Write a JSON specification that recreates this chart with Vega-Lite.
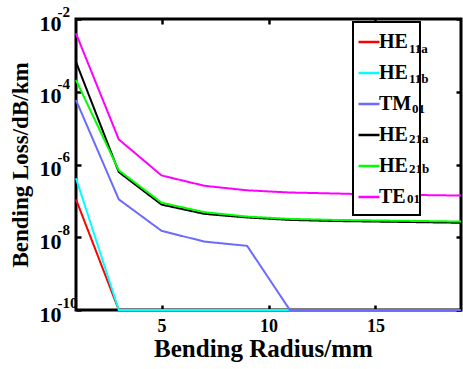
{
  "$schema": "https://vega.github.io/schema/vega-lite/v6.json",
  "width": 385,
  "height": 291,
  "autosize": "none",
  "padding": {"left": 76, "top": 19, "right": 2, "bottom": 59},
  "background": "white",
  "config": {
    "view": {"stroke": "black", "strokeWidth": 3},
    "font": "Liberation Serif"
  },
  "data": {
    "values": [
      {"mode": "HE11a", "r": 1, "loss": 1.1e-7},
      {"mode": "HE11a", "r": 3, "loss": 1e-10},
      {"mode": "HE11a", "r": 5, "loss": 1e-10},
      {"mode": "HE11a", "r": 7, "loss": 1e-10},
      {"mode": "HE11a", "r": 9, "loss": 1e-10},
      {"mode": "HE11a", "r": 11, "loss": 1e-10},
      {"mode": "HE11a", "r": 13, "loss": 1e-10},
      {"mode": "HE11a", "r": 15, "loss": 1e-10},
      {"mode": "HE11a", "r": 17, "loss": 1e-10},
      {"mode": "HE11a", "r": 19, "loss": 1e-10},
      {"mode": "HE11b", "r": 1, "loss": 4.2e-7},
      {"mode": "HE11b", "r": 3, "loss": 1e-10},
      {"mode": "HE11b", "r": 5, "loss": 1e-10},
      {"mode": "HE11b", "r": 7, "loss": 1e-10},
      {"mode": "HE11b", "r": 9, "loss": 1e-10},
      {"mode": "HE11b", "r": 11, "loss": 1e-10},
      {"mode": "HE11b", "r": 13, "loss": 1e-10},
      {"mode": "HE11b", "r": 15, "loss": 1e-10},
      {"mode": "HE11b", "r": 17, "loss": 1e-10},
      {"mode": "HE11b", "r": 19, "loss": 1e-10},
      {"mode": "TM01", "r": 1, "loss": 5.9e-5},
      {"mode": "TM01", "r": 3, "loss": 1.1e-7},
      {"mode": "TM01", "r": 5, "loss": 1.5e-8},
      {"mode": "TM01", "r": 7, "loss": 7.6e-9},
      {"mode": "TM01", "r": 9, "loss": 5.8e-9},
      {"mode": "TM01", "r": 11, "loss": 1e-10},
      {"mode": "TM01", "r": 13, "loss": 1e-10},
      {"mode": "TM01", "r": 15, "loss": 1e-10},
      {"mode": "TM01", "r": 17, "loss": 1e-10},
      {"mode": "TM01", "r": 19, "loss": 1e-10},
      {"mode": "HE21a", "r": 1, "loss": 6.6e-4},
      {"mode": "HE21a", "r": 3, "loss": 6.2e-7},
      {"mode": "HE21a", "r": 5, "loss": 7.9e-8},
      {"mode": "HE21a", "r": 7, "loss": 4.4e-8},
      {"mode": "HE21a", "r": 9, "loss": 3.5e-8},
      {"mode": "HE21a", "r": 11, "loss": 3.0e-8},
      {"mode": "HE21a", "r": 13, "loss": 2.8e-8},
      {"mode": "HE21a", "r": 15, "loss": 2.7e-8},
      {"mode": "HE21a", "r": 17, "loss": 2.6e-8},
      {"mode": "HE21a", "r": 19, "loss": 2.5e-8},
      {"mode": "HE21b", "r": 1, "loss": 2.1e-4},
      {"mode": "HE21b", "r": 3, "loss": 6.9e-7},
      {"mode": "HE21b", "r": 5, "loss": 8.9e-8},
      {"mode": "HE21b", "r": 7, "loss": 4.9e-8},
      {"mode": "HE21b", "r": 9, "loss": 3.7e-8},
      {"mode": "HE21b", "r": 11, "loss": 3.2e-8},
      {"mode": "HE21b", "r": 13, "loss": 3.0e-8},
      {"mode": "HE21b", "r": 15, "loss": 2.9e-8},
      {"mode": "HE21b", "r": 17, "loss": 2.8e-8},
      {"mode": "HE21b", "r": 19, "loss": 2.7e-8},
      {"mode": "TE01", "r": 1, "loss": 4.0e-3},
      {"mode": "TE01", "r": 3, "loss": 4.9e-6},
      {"mode": "TE01", "r": 5, "loss": 5.0e-7},
      {"mode": "TE01", "r": 7, "loss": 2.6e-7},
      {"mode": "TE01", "r": 9, "loss": 1.95e-7},
      {"mode": "TE01", "r": 11, "loss": 1.7e-7},
      {"mode": "TE01", "r": 13, "loss": 1.6e-7},
      {"mode": "TE01", "r": 15, "loss": 1.5e-7},
      {"mode": "TE01", "r": 17, "loss": 1.45e-7},
      {"mode": "TE01", "r": 19, "loss": 1.4e-7}
    ]
  },
  "resolve": {"axis": {"x": "independent", "y": "independent"}},
  "layer": [
    {
      "mark": {"type": "line", "strokeWidth": 2, "clip": false},
      "encoding": {
        "x": {
          "field": "r", "type": "quantitative",
          "scale": {"domain": [1, 19], "nice": false, "zero": false},
          "axis": {
            "values": [5, 10, 15], "grid": false, "domain": false,
            "tickSize": -5, "tickWidth": 2.5, "tickColor": "black",
            "labelFont": "Liberation Serif", "labelFontWeight": "bold", "labelFontSize": 18, "labelColor": "black",
            "labelPadding": 12,
            "title": "Bending Radius/mm", "titleFont": "Liberation Serif", "titleFontWeight": "bold",
            "titleFontSize": 25, "titleColor": "black", "titlePadding": 1, "titleX": 187
          }
        },
        "y": {
          "field": "loss", "type": "quantitative",
          "scale": {"type": "log", "domain": [1e-10, 1e-2], "nice": false},
          "axis": {
            "values": [1e-10, 1e-8, 1e-6, 1e-4, 1e-2], "grid": false, "domain": false,
            "tickSize": -5, "tickWidth": 2.5, "tickColor": "black",
            "labelExpr": "'10'",
            "labelFont": "Liberation Serif", "labelFontWeight": "bold", "labelFontSize": 22, "labelColor": "black",
            "labelPadding": 20, "labelOffset": 4, "labelBaseline": "middle",
            "encode": {"labels": {"update": {
              "dx": {"signal": "datum.value < 1e-9 ? -7 : 0"}
            }}},
            "title": "Bending Loss/dB/km", "titleFont": "Liberation Serif", "titleFontWeight": "bold",
            "titleFontSize": 23, "titleColor": "black", "titlePadding": 7
          }
        },
        "color": {
          "field": "mode", "type": "nominal",
          "scale": {
            "domain": ["HE11a", "HE11b", "TM01", "HE21a", "HE21b", "TE01"],
            "range": ["#ff0000", "#00ffff", "#6b6bff", "#000000", "#00ff00", "#ff00ff"]
          },
          "legend": {
            "title": null, "orient": "none", "legendX": 277, "legendY": 3,
            "strokeColor": "black", "fillColor": "white", "padding": 8,
            "symbolType": "stroke", "symbolSize": 441, "symbolStrokeWidth": 2.5, "symbolOffset": -4,
            "labelExpr": "slice(datum.label, 0, 2) + '          '",
            "labelFont": "Liberation Serif", "labelFontWeight": "bold", "labelFontSize": 20, "labelColor": "black",
            "labelOffset": -2, "rowPadding": 9,
            "encode": {"legend": {"update": {"strokeWidth": {"value": 2}}}}
          }
        },
        "strokeDash": {
          "field": "mode", "type": "nominal",
          "sort": ["HE11a", "HE11b", "TM01", "HE21a", "HE21b", "TE01"],
          "scale": {"range": [[1, 0], [1, 0], [1, 0], [1, 0], [1, 0], [1, 0]]},
          "legend": {
            "title": null, "orient": "none", "legendX": 320, "legendY": 23,
            "padding": 0, "symbolSize": 1, "symbolOpacity": 0, "symbolStrokeWidth": 0,
            "labelExpr": "slice(datum.label, 2)",
            "labelFont": "Liberation Serif", "labelFontWeight": "bold", "labelFontSize": 13, "labelColor": "black",
            "labelOffset": 0, "rowPadding": 16,
            "encode": {"labels": {"update": {"dx": {"signal": "datum.value === 'TM01' ? 3 : datum.value === 'TE01' ? -2 : 0"}}}}
          }
        }
      }
    },
    {
      "mark": {"type": "line", "opacity": 0},
      "encoding": {
        "x": {"field": "r", "type": "quantitative", "axis": null},
        "y": {
          "field": "loss", "type": "quantitative",
          "axis": {
            "orient": "left",
            "values": [1e-10, 1e-8, 1e-6, 1e-4, 1e-2], "grid": false, "domain": false, "ticks": false,
            "labelExpr": "'-' + round(-log(datum.value) / LN10)",
            "labelFont": "Liberation Serif", "labelFontWeight": "bold", "labelFontSize": 15, "labelColor": "black",
            "labelAlign": "left", "labelBaseline": "bottom", "labelPadding": 19, "title": null,
            "encode": {"labels": {"update": {
              "dx": {"signal": "datum.value < 1e-9 ? -7 : 0"}
            }}}
          }
        },
        "detail": {"field": "mode", "type": "nominal"}
      }
    },
    {
      "mark": {"type": "line", "opacity": 0},
      "encoding": {
        "x": {
          "field": "r", "type": "quantitative",
          "axis": {"orient": "top", "values": [5, 10, 15], "grid": false, "domain": false, "labels": false,
                   "tickSize": -5, "tickWidth": 2.5, "tickColor": "black", "title": null}
        },
        "y": {
          "field": "loss", "type": "quantitative",
          "axis": {"orient": "right", "values": [1e-10, 1e-8, 1e-6, 1e-4, 1e-2], "grid": false, "domain": false, "labels": false,
                   "tickSize": -5, "tickWidth": 2.5, "tickColor": "black", "title": null}
        },
        "detail": {"field": "mode", "type": "nominal"}
      }
    }
  ]
}
